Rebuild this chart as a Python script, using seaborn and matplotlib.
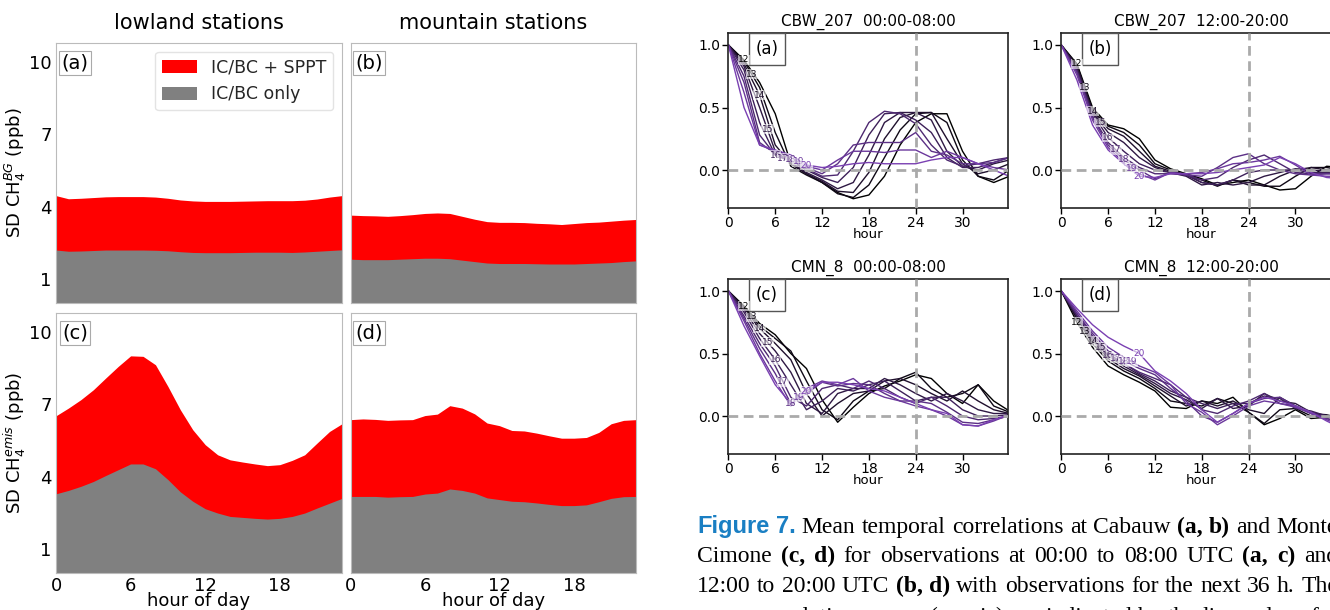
import numpy as np
import pandas as pd
import matplotlib
matplotlib.use("Agg")
import matplotlib.pyplot as plt
import seaborn as sns

# ---- left figure: diurnal SD of CH4 (ppb) ----
hours = list(range(24))

low_bg_ic = [2.20, 2.15, 2.16, 2.18, 2.20, 2.20, 2.20, 2.20, 2.19, 2.17, 2.13, 2.10,
             2.09, 2.09, 2.09, 2.10, 2.11, 2.11, 2.11, 2.10, 2.12, 2.15, 2.18, 2.21]
low_bg_tot = [4.46, 4.33, 4.35, 4.38, 4.41, 4.42, 4.42, 4.42, 4.40, 4.35, 4.28, 4.24,
              4.22, 4.22, 4.22, 4.23, 4.24, 4.25, 4.25, 4.25, 4.27, 4.32, 4.40, 4.46]
mnt_bg_ic = [1.82, 1.80, 1.80, 1.80, 1.82, 1.84, 1.86, 1.86, 1.84, 1.78, 1.72, 1.66,
             1.64, 1.64, 1.64, 1.63, 1.62, 1.62, 1.62, 1.64, 1.66, 1.68, 1.72, 1.75]
mnt_bg_tot = [3.65, 3.63, 3.62, 3.60, 3.63, 3.67, 3.72, 3.74, 3.72, 3.60, 3.48, 3.38,
              3.35, 3.35, 3.34, 3.31, 3.29, 3.26, 3.30, 3.34, 3.36, 3.40, 3.44, 3.47]
low_em_ic = [3.29, 3.43, 3.60, 3.80, 4.05, 4.29, 4.53, 4.53, 4.33, 3.88, 3.37, 2.98,
             2.67, 2.49, 2.35, 2.31, 2.27, 2.24, 2.27, 2.35, 2.49, 2.70, 2.90, 3.10]
low_em_tot = [6.53, 6.85, 7.20, 7.61, 8.10, 8.58, 9.02, 9.00, 8.65, 7.75, 6.78, 5.95,
              5.33, 4.91, 4.70, 4.61, 4.53, 4.46, 4.50, 4.68, 4.91, 5.40, 5.88, 6.20]
mnt_em_ic = [3.18, 3.18, 3.18, 3.15, 3.17, 3.18, 3.28, 3.32, 3.49, 3.43, 3.32, 3.12,
             3.05, 2.98, 2.96, 2.91, 2.85, 2.80, 2.80, 2.83, 2.96, 3.10, 3.17, 3.18]
mnt_em_tot = [6.37, 6.40, 6.38, 6.34, 6.36, 6.37, 6.54, 6.60, 6.95, 6.85, 6.61, 6.23,
              6.12, 5.92, 5.90, 5.81, 5.70, 5.60, 5.60, 5.63, 5.84, 6.20, 6.34, 6.37]

# ---- right figure: temporal correlations vs lag (hours) ----
lags = list(range(0, 37, 2))
start_labels = ["12", "13", "14", "15", "16", "17", "18", "19", "20"]

cbw_0008 = [
    [1.0, 0.88, 0.70, 0.45, 0.05, -0.03, -0.10, -0.18, -0.23, -0.20, -0.05, 0.20, 0.38, 0.45, 0.45, 0.15, -0.05, -0.10, -0.05],
    [1.0, 0.87, 0.66, 0.30, 0.03, -0.04, -0.10, -0.19, -0.22, -0.12, 0.10, 0.32, 0.45, 0.46, 0.38, 0.08, -0.05, -0.08, 0.00],
    [1.0, 0.85, 0.60, 0.20, 0.05, -0.03, -0.09, -0.17, -0.18, -0.02, 0.25, 0.42, 0.46, 0.46, 0.25, 0.05, -0.03, 0.00, 0.05],
    [1.0, 0.83, 0.50, 0.15, 0.06, -0.02, -0.08, -0.15, -0.10, 0.12, 0.38, 0.46, 0.46, 0.40, 0.15, 0.03, 0.00, 0.05, 0.08],
    [1.0, 0.80, 0.38, 0.12, 0.07, 0.00, -0.06, -0.10, 0.02, 0.28, 0.45, 0.46, 0.40, 0.30, 0.10, 0.02, 0.02, 0.06, 0.10],
    [1.0, 0.75, 0.28, 0.12, 0.07, 0.01, -0.05, -0.04, 0.15, 0.38, 0.47, 0.45, 0.37, 0.20, 0.08, 0.03, 0.05, 0.08, 0.10],
    [1.0, 0.70, 0.22, 0.13, 0.08, 0.02, -0.03, 0.05, 0.20, 0.22, 0.22, 0.22, 0.30, 0.15, 0.12, 0.05, 0.05, 0.06, 0.10],
    [1.0, 0.62, 0.20, 0.15, 0.10, 0.03, 0.00, 0.08, 0.15, 0.15, 0.14, 0.16, 0.16, 0.10, 0.15, 0.10, 0.05, 0.02, 0.00],
    [1.0, 0.50, 0.20, 0.16, 0.12, 0.04, 0.02, 0.03, 0.05, 0.06, 0.05, 0.05, 0.05, 0.08, 0.10, 0.10, 0.05, 0.00, -0.05],
]
cbw_1220 = [
    [1.0, 0.85, 0.50, 0.36, 0.33, 0.25, 0.08, 0.01, -0.03, -0.07, -0.12, -0.10, -0.08, -0.12, -0.16, -0.15, -0.05, 0.03, 0.02],
    [1.0, 0.84, 0.48, 0.35, 0.30, 0.20, 0.05, 0.00, -0.04, -0.08, -0.13, -0.08, -0.10, -0.13, -0.13, -0.05, 0.02, 0.02, 0.00],
    [1.0, 0.83, 0.47, 0.33, 0.27, 0.15, 0.03, -0.01, -0.04, -0.10, -0.12, -0.08, -0.12, -0.12, -0.05, 0.00, 0.02, 0.00, 0.00],
    [1.0, 0.82, 0.46, 0.30, 0.22, 0.10, 0.02, -0.02, -0.05, -0.12, -0.10, -0.12, -0.10, -0.05, -0.02, 0.01, 0.00, -0.01, 0.00],
    [1.0, 0.80, 0.45, 0.26, 0.15, 0.05, 0.00, -0.02, -0.04, -0.10, -0.12, -0.08, -0.02, 0.00, 0.00, 0.00, -0.02, -0.02, -0.03],
    [1.0, 0.79, 0.43, 0.22, 0.10, 0.02, -0.03, -0.03, -0.04, -0.08, -0.06, 0.02, 0.08, 0.12, 0.05, -0.02, -0.03, -0.03, -0.03],
    [1.0, 0.78, 0.42, 0.20, 0.08, 0.00, -0.07, -0.02, -0.04, -0.05, 0.02, 0.10, 0.13, 0.05, 0.00, -0.03, -0.04, -0.03, -0.03],
    [1.0, 0.76, 0.40, 0.18, 0.06, -0.03, -0.08, -0.02, -0.03, -0.02, 0.01, 0.05, 0.06, 0.08, 0.11, 0.04, -0.04, -0.05, -0.05],
    [1.0, 0.72, 0.36, 0.16, 0.05, -0.05, -0.06, -0.03, -0.03, -0.03, -0.02, 0.00, 0.02, 0.04, 0.10, 0.05, -0.02, -0.06, -0.07],
]
cmn_0008 = [
    [1.0, 0.88, 0.74, 0.65, 0.50, 0.38, 0.13, -0.05, 0.07, 0.18, 0.24, 0.28, 0.33, 0.30, 0.18, 0.10, 0.25, 0.12, 0.04],
    [1.0, 0.87, 0.72, 0.62, 0.52, 0.28, 0.05, -0.03, 0.12, 0.20, 0.22, 0.30, 0.35, 0.22, 0.15, 0.18, 0.25, 0.08, 0.03],
    [1.0, 0.86, 0.70, 0.58, 0.45, 0.18, 0.00, 0.10, 0.18, 0.20, 0.28, 0.30, 0.25, 0.18, 0.12, 0.20, 0.12, 0.05, 0.02],
    [1.0, 0.85, 0.66, 0.52, 0.35, 0.10, 0.02, 0.18, 0.22, 0.22, 0.30, 0.25, 0.18, 0.12, 0.18, 0.12, 0.05, 0.02, 0.02],
    [1.0, 0.83, 0.62, 0.45, 0.25, 0.05, 0.12, 0.22, 0.20, 0.25, 0.28, 0.20, 0.12, 0.15, 0.15, 0.05, 0.00, 0.00, 0.01],
    [1.0, 0.80, 0.58, 0.40, 0.15, 0.08, 0.22, 0.25, 0.22, 0.28, 0.22, 0.15, 0.10, 0.15, 0.08, 0.00, -0.03, -0.02, 0.00],
    [1.0, 0.78, 0.54, 0.34, 0.10, 0.18, 0.27, 0.24, 0.26, 0.25, 0.18, 0.12, 0.12, 0.10, 0.03, -0.05, -0.06, -0.03, 0.00],
    [1.0, 0.76, 0.50, 0.28, 0.08, 0.22, 0.28, 0.25, 0.30, 0.20, 0.15, 0.12, 0.08, 0.05, 0.00, -0.07, -0.08, -0.04, 0.01],
    [1.0, 0.72, 0.48, 0.25, 0.10, 0.20, 0.27, 0.27, 0.25, 0.22, 0.20, 0.15, 0.10, 0.05, 0.02, -0.07, -0.08, -0.03, 0.01],
]
cmn_1220 = [
    [1.0, 0.75, 0.55, 0.40, 0.33, 0.27, 0.20, 0.07, 0.06, 0.12, 0.10, 0.15, 0.03, -0.07, -0.02, 0.05, -0.02, -0.01, 0.00],
    [1.0, 0.78, 0.58, 0.44, 0.36, 0.30, 0.22, 0.12, 0.10, 0.08, 0.14, 0.10, 0.03, -0.06, 0.05, 0.06, 0.00, 0.00, -0.01],
    [1.0, 0.78, 0.60, 0.46, 0.38, 0.32, 0.24, 0.16, 0.08, 0.12, 0.08, 0.12, 0.05, 0.02, 0.15, 0.08, 0.02, 0.01, -0.02],
    [1.0, 0.80, 0.62, 0.48, 0.40, 0.33, 0.26, 0.18, 0.13, 0.06, 0.14, 0.06, 0.08, 0.18, 0.12, 0.10, 0.03, 0.00, -0.03],
    [1.0, 0.80, 0.62, 0.48, 0.42, 0.34, 0.28, 0.20, 0.15, 0.10, 0.06, 0.10, 0.10, 0.16, 0.14, 0.06, 0.04, 0.00, -0.04],
    [1.0, 0.82, 0.64, 0.50, 0.42, 0.35, 0.30, 0.25, 0.15, 0.05, 0.02, 0.08, 0.12, 0.18, 0.10, 0.08, 0.02, -0.02, -0.05],
    [1.0, 0.82, 0.66, 0.52, 0.44, 0.38, 0.33, 0.22, 0.12, 0.00, -0.05, 0.02, 0.10, 0.14, 0.15, 0.08, 0.03, -0.02, -0.06],
    [1.0, 0.84, 0.68, 0.55, 0.47, 0.40, 0.35, 0.25, 0.10, 0.03, -0.07, 0.00, 0.08, 0.12, 0.10, 0.07, 0.02, -0.03, -0.08],
    [1.0, 0.86, 0.73, 0.63, 0.56, 0.50, 0.36, 0.28, 0.18, 0.05, -0.05, 0.02, 0.10, 0.15, 0.12, 0.08, 0.03, -0.04, -0.10],
]

caption_lines = [
    [("Figure 7.", "fig"), ("Mean temporal correlations at Cabauw", "r"), ("(a, b)", "b"), ("and Monte", "r")],
    [("Cimone", "r"), ("(c, d)", "b"), ("for observations at 00:00 to 08:00 UTC", "r"), ("(a, c)", "b"), ("and", "r")],
    [("12:00 to 20:00 UTC", "r"), ("(b, d)", "b"), ("with observations for the next 36 h. The", "r")],
    [("mean correlation curves (x-axis) are indicated by the line colour for", "r")],
]

sns.set_style("ticks")
plt.rcParams["font.family"] = ["DejaVu Sans"]

W, H = 1330, 610
fig = plt.figure(figsize=(W / 100, H / 100), dpi=100)


def px_axes(left, top, right, bottom):
    return fig.add_axes([left / W, 1 - bottom / H, (right - left) / W, (bottom - top) / H])


# left block
sd_panels = [
    ("(a)", low_bg_ic, low_bg_tot, 56, 43, 342, 303),
    ("(b)", mnt_bg_ic, mnt_bg_tot, 350.5, 43, 636, 303),
    ("(c)", low_em_ic, low_em_tot, 56, 313, 342, 573),
    ("(d)", mnt_em_ic, mnt_em_tot, 350.5, 313, 636, 573),
]
for i, (tag, ic, tot, l, t, r, b) in enumerate(sd_panels):
    ax = px_axes(l, t, r, b)
    ax.fill_between(hours, 0, tot, color="#ff0000", lw=0, label="IC/BC + SPPT")
    ax.fill_between(hours, 0, ic, color="#808080", lw=0, label="IC/BC only")
    ax.set_xlim(0, 23)
    ax.set_ylim(0, 10.8)
    ax.set_xticks([0, 6, 12, 18])
    ax.set_yticks([1, 4, 7, 10])
    ax.tick_params(length=0, labelsize=13, pad=3, colors="black")
    for s in ax.spines.values():
        s.set_color("#bbbbbb")
        s.set_linewidth(0.8)
    if i % 2 == 1:
        ax.set_yticklabels([])
    if i < 2:
        ax.set_xticklabels([])
        ax.set_title(["lowland stations", "mountain stations"][i], fontsize=15, pad=10, color="black")
    else:
        ax.set_xlabel("hour of day", fontsize=13, labelpad=-2, color="black")
    if i == 0:
        ax.set_ylabel("SD CH$_4^{BG}$ (ppb)", fontsize=13, labelpad=1, color="black")
        ax.legend(loc="upper right", fontsize=12.5, handlelength=2.0, handleheight=0.8,
                  borderaxespad=0.5, labelspacing=0.5, frameon=True, edgecolor="#dddddd")
    if i == 2:
        ax.set_ylabel("SD CH$_4^{emis}$ (ppb)", fontsize=13, labelpad=1, color="black")
    ax.text(0.066, 0.923, tag, transform=ax.transAxes, ha="center", va="center", fontsize=14,
            color="black", bbox=dict(boxstyle="square,pad=0.12", fc="white", ec="#aaaaaa", lw=0.8))

# right block
palette = sns.blend_palette(["#000000", "#7a40b2"], len(start_labels))
corr_panels = [
    ("(a)", "CBW_207  00:00-08:00", cbw_0008, 728.4, 32.5),
    ("(b)", "CBW_207  12:00-20:00", cbw_1220, 1061.3, 32.5),
    ("(c)", "CMN_8  00:00-08:00", cmn_0008, 728.4, 278.5),
    ("(d)", "CMN_8  12:00-20:00", cmn_1220, 1061.3, 278.5),
]
for tag, title, curves, l, t in corr_panels:
    ax = px_axes(l, t, l + 279.4, t + 175)
    df = pd.DataFrame({
        "lag": np.tile(lags, len(start_labels)),
        "r": np.concatenate(curves),
        "start": np.repeat(start_labels, len(lags)),
    })
    sns.lineplot(data=df, x="lag", y="r", hue="start", hue_order=start_labels,
                 palette=palette, lw=1.0, legend=False, ax=ax)
    ax.axhline(0, color="#aaaaaa", ls=(0, (3.5, 2)), lw=2, zorder=3)
    ax.axvline(24, color="#aaaaaa", ls=(0, (3.5, 2)), lw=2, zorder=3)
    for k, lbl in enumerate(start_labels):
        x = k + 2
        y = np.interp(x, lags, curves[k])
        ax.text(x, y, lbl, fontsize=6.5, color=palette[k], ha="center", va="center", zorder=4,
                bbox=dict(boxstyle="square,pad=0.05", fc="white", ec="none", alpha=0.6))
    ax.set_xlim(0, 35.8)
    ax.set_ylim(-0.3, 1.1)
    ax.set_xticks(range(0, 31, 6))
    ax.set_yticks([0.0, 0.5, 1.0])
    ax.tick_params(labelsize=10, length=4, width=1, pad=2, colors="black")
    ax.set_xlabel("hour", fontsize=9.5, labelpad=-1, color="black")
    ax.set_ylabel("")
    ax.set_title(title, fontsize=11, pad=5, color="black")
    for s in ax.spines.values():
        s.set_color("#222222")
        s.set_linewidth(1.2)
    ax.text(0.138, 0.906, tag, transform=ax.transAxes, ha="center", va="center", fontsize=12,
            color="black", bbox=dict(boxstyle="square,pad=0.4", fc="white", ec="#555555", lw=1))

# caption, justified word by word
cap_styles = {
    "fig": dict(family="Liberation Sans", weight="bold", color="#1a7fc3"),
    "r": dict(family="Liberation Serif", weight="normal", color="black"),
    "b": dict(family="Liberation Serif", weight="bold", color="black"),
}
renderer = fig.canvas.get_renderer()
cap_left, cap_right = 697, 1338
baselines = [533, 562, 592, 623]
for line, yb in zip(caption_lines, baselines):
    words = [(w, st) for seg, st in line for w in seg.split(" ")]
    texts, widths = [], []
    for w, st in words:
        txt = fig.text(0, 1 - yb / H, w, fontsize=17, va="baseline", ha="left", **cap_styles[st])
        texts.append(txt)
        widths.append(txt.get_window_extent(renderer).width)
    gap = (cap_right - cap_left - sum(widths)) / max(len(words) - 1, 1)
    x = cap_left
    for txt, wd in zip(texts, widths):
        txt.set_x(x / W)
        x += wd + gap

fig.savefig("out.png", dpi=100)
